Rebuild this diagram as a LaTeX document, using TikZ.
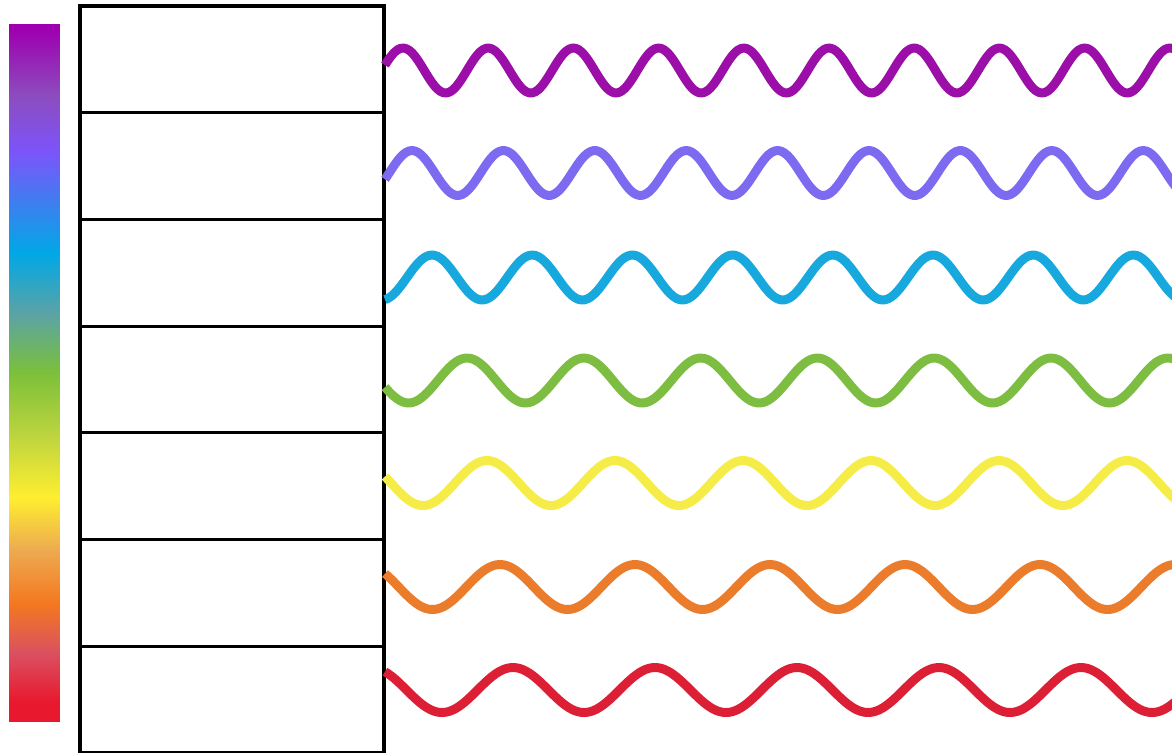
\documentclass[tikz,border=0pt]{standalone}
\usepackage{xcolor}
\usepackage{tikz}
\usetikzlibrary{positioning}
\definecolor{specpurple}{HTML}{9E00B0}
\definecolor{specmauve}{HTML}{8C4CBE}
\definecolor{specviolet}{HTML}{7B55FA}
\definecolor{speccyan}{HTML}{00A8E6}
\definecolor{specteal}{HTML}{5AA3A6}
\definecolor{specgreen}{HTML}{7CC03A}
\definecolor{speclime}{HTML}{BCD43E}
\definecolor{specyellow}{HTML}{FFEE30}
\definecolor{specsand}{HTML}{EDAA50}
\definecolor{specorange}{HTML}{F47820}
\definecolor{specpink}{HTML}{DA5060}
\definecolor{specred}{HTML}{E8182E}
\definecolor{wavepurple}{HTML}{9B0FA8}
\definecolor{waveviolet}{HTML}{7C6AF0}
\definecolor{waveblue}{HTML}{17A8DE}
\definecolor{wavegreen}{HTML}{7DBD42}
\definecolor{waveyellow}{HTML}{F5EC48}
\definecolor{waveorange}{HTML}{EB7C2C}
\definecolor{wavered}{HTML}{DC1F35}
\pgfdeclareverticalshading{spectrum}{100bp}{
  color(0bp)=(specred); color(25bp)=(specred); color(26.4bp)=(specred);
  color(29.9bp)=(specpink); color(33.5bp)=(specorange); color(37.3bp)=(specsand);
  color(41.1bp)=(specyellow); color(45.6bp)=(speclime); color(50bp)=(specgreen);
  color(54.3bp)=(specteal); color(58.6bp)=(speccyan); color(65.8bp)=(specviolet);
  color(69.9bp)=(specmauve); color(74.6bp)=(specpurple); color(100bp)=(specpurple)}
\tikzset{
  specbar/.style={
    inner sep=0pt,minimum width=1.02cm,minimum height=13.96cm,
    shading=spectrum
  },
  band/.style={
    draw=black,fill=white,line width=1.8pt,inner sep=0pt,
    minimum width=6.08cm,minimum height=2.134cm
  },
  wave/.style={line width=5.1pt,line cap=butt,line join=round}
}
\begin{document}
\begin{tikzpicture}[x=0.02cm,y=-0.02cm]
\useasboundingbox (0,0) rectangle (1172,752);
\node[specbar] (bar) at (34.5,373) {};
\foreach \n in {1,...,7}
  \node[band] (band\n) at (232,{59.35+106.7*(\n-1)}) {};
\foreach \wcol/\wmid/\wlen/\wcrest in {wavepurple/70.5/85.2/403,waveviolet/173/91.4/412,
    waveblue/277.5/100.2/432,wavegreen/380.5/116.8/467,waveyellow/483/128/487,
    waveorange/587/135/500,wavered/690/142/513}
  \draw[wave,\wcol] plot[domain=385:1180,samples=260,smooth]
    (\x,{\wmid-22.5*cos(((\x-\wcrest)/\wlen)*360)});
\end{tikzpicture}
\end{document}
